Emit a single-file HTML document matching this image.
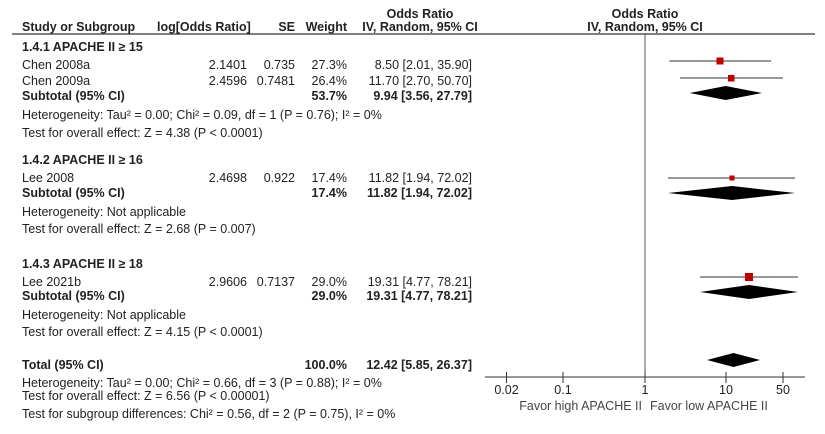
<!DOCTYPE html>
<html><head><meta charset="utf-8"><style>
html,body{margin:0;padding:0;background:#fff;}
svg{display:block;}
text{font-family:"Liberation Sans",Arial,sans-serif;font-size:12.5px;fill:#222;}
.b{font-weight:bold;}
.r{text-anchor:end;}
.m{text-anchor:middle;}
</style></head><body>
<svg width="825" height="434" viewBox="0 0 825 434" xmlns="http://www.w3.org/2000/svg">
<!-- headers -->
<text class="b m" x="420" y="18">Odds Ratio</text>
<text class="b m" x="645" y="18">Odds Ratio</text>
<text class="b" x="22" y="31">Study or Subgroup</text>
<text class="b" x="157" y="31">log[Odds Ratio]</text>
<text class="b r" x="295" y="31">SE</text>
<text class="b r" x="347" y="31">Weight</text>
<text class="b m" x="420" y="31">IV, Random, 95% CI</text>
<text class="b m" x="645" y="31">IV, Random, 95% CI</text>
<line x1="12" y1="34" x2="815" y2="34" stroke="#333" stroke-width="1.2"/>

<!-- section 1 -->
<text class="b" x="22" y="51">1.4.1 APACHE II ≥ 15</text>
<text x="22" y="69">Chen 2008a</text><text class="r" x="247" y="69">2.1401</text><text class="r" x="295" y="69">0.735</text><text class="r" x="347" y="69">27.3%</text><text class="r" x="472" y="69">8.50 [2.01, 35.90]</text>
<text x="22" y="85">Chen 2009a</text><text class="r" x="247" y="85">2.4596</text><text class="r" x="295" y="85">0.7481</text><text class="r" x="347" y="85">26.4%</text><text class="r" x="472" y="85">11.70 [2.70, 50.70]</text>
<text class="b" x="22" y="100">Subtotal (95% CI)</text><text class="b r" x="347" y="100">53.7%</text><text class="b r" x="472" y="100">9.94 [3.56, 27.79]</text>
<text x="22" y="119">Heterogeneity: Tau² = 0.00; Chi² = 0.09, df = 1 (P = 0.76); I² = 0%</text>
<text x="22" y="137">Test for overall effect: Z = 4.38 (P &lt; 0.0001)</text>

<!-- section 2 -->
<text class="b" x="22" y="164">1.4.2 APACHE II ≥ 16</text>
<text x="22" y="182">Lee 2008</text><text class="r" x="247" y="182">2.4698</text><text class="r" x="295" y="182">0.922</text><text class="r" x="347" y="182">17.4%</text><text class="r" x="472" y="182">11.82 [1.94, 72.02]</text>
<text class="b" x="22" y="197">Subtotal (95% CI)</text><text class="b r" x="347" y="197">17.4%</text><text class="b r" x="472" y="197">11.82 [1.94, 72.02]</text>
<text x="22" y="216">Heterogeneity: Not applicable</text>
<text x="22" y="233">Test for overall effect: Z = 2.68 (P = 0.007)</text>

<!-- section 3 -->
<text class="b" x="22" y="268">1.4.3 APACHE II ≥ 18</text>
<text x="22" y="286">Lee 2021b</text><text class="r" x="247" y="286">2.9606</text><text class="r" x="295" y="286">0.7137</text><text class="r" x="347" y="286">29.0%</text><text class="r" x="472" y="286">19.31 [4.77, 78.21]</text>
<text class="b" x="22" y="300">Subtotal (95% CI)</text><text class="b r" x="347" y="300">29.0%</text><text class="b r" x="472" y="300">19.31 [4.77, 78.21]</text>
<text x="22" y="319">Heterogeneity: Not applicable</text>
<text x="22" y="336">Test for overall effect: Z = 4.15 (P &lt; 0.0001)</text>

<!-- total -->
<text class="b" x="22" y="369">Total (95% CI)</text><text class="b r" x="347" y="369">100.0%</text><text class="b r" x="472" y="369">12.42 [5.85, 26.37]</text>
<text x="22" y="387">Heterogeneity: Tau² = 0.00; Chi² = 0.66, df = 3 (P = 0.88); I² = 0%</text>
<text x="22" y="400">Test for overall effect: Z = 6.56 (P &lt; 0.00001)</text>
<text x="22" y="418">Test for subgroup differences: Chi² = 0.56, df = 2 (P = 0.75), I² = 0%</text>

<!-- plot -->
<line x1="645" y1="34" x2="645" y2="377" stroke="#555" stroke-width="1"/>
<g stroke="#333" stroke-width="1">
<line x1="669.5" y1="61" x2="771" y2="61"/>
<line x1="680" y1="78" x2="783" y2="78"/>
<line x1="668" y1="178" x2="795" y2="178"/>
<line x1="700" y1="277" x2="798" y2="277"/>
</g>
<g fill="#c00000">
<rect x="716.5" y="57.5" width="7" height="7"/>
<rect x="728" y="75" width="6.5" height="6.5"/>
<rect x="729.5" y="175.5" width="5" height="5"/>
<rect x="745" y="273" width="8" height="8"/>
</g>
<g fill="#000">
<polygon points="689.7,93 725.7,86 762,93 725.7,100"/>
<polygon points="668,193 732,186 795,193 732,200"/>
<polygon points="700,292 749,285 798,292 749,299"/>
<polygon points="707,360 733.5,353 760,360 733.5,367"/>
</g>
<!-- axis -->
<line x1="485" y1="377" x2="805" y2="377" stroke="#333" stroke-width="1"/>
<g stroke="#333" stroke-width="1">
<line x1="506.5" y1="372" x2="506.5" y2="383"/>
<line x1="563" y1="372" x2="563" y2="383"/>
<line x1="645" y1="372" x2="645" y2="383"/>
<line x1="726" y1="372" x2="726" y2="383"/>
<line x1="783" y1="372" x2="783" y2="383"/>
</g>
<text class="m" x="506.5" y="394">0.02</text>
<text class="m" x="563" y="394">0.1</text>
<text class="m" x="645" y="394">1</text>
<text class="m" x="726" y="394">10</text>
<text class="m" x="783" y="394">50</text>
<text class="r" x="642" y="410" style="fill:#444">Favor high APACHE II</text>
<text x="650" y="410" style="fill:#444">Favor low APACHE II</text>
</svg>
</body></html>
